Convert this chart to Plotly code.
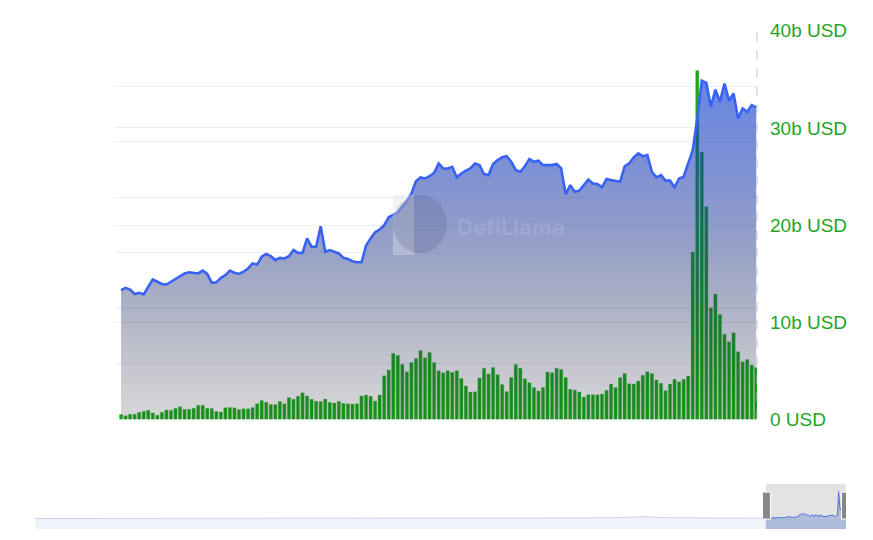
import pandas as pd
import plotly.graph_objects as go

# ---------------- data ----------------
vis_start = "2024-08-01"

tvl = [2.33, 2.37, 2.34, 2.26, 2.28, 2.25, 2.39, 2.52, 2.48, 2.44, 2.43, 2.48, 2.52, 2.57, 2.63, 2.65, 2.64, 2.63, 2.68, 2.62, 2.46, 2.47, 2.55,
       2.60, 2.68, 2.64, 2.62, 2.66, 2.72, 2.81, 2.79, 2.93, 2.98, 2.94, 2.87, 2.91, 2.90, 2.94, 3.05, 3.00, 3.00, 3.26, 3.11, 3.11, 3.48, 3.02,
       3.05, 3.02, 2.99, 2.91, 2.89, 2.85, 2.83, 2.83, 3.13, 3.26, 3.37, 3.42, 3.50, 3.64, 3.68, 3.73, 3.83, 3.93, 4.07, 4.29, 4.36, 4.34, 4.38,
       4.44, 4.61, 4.52, 4.52, 4.55, 4.36, 4.43, 4.48, 4.52, 4.61, 4.58, 4.42, 4.40, 4.60, 4.67, 4.72, 4.74, 4.64, 4.49, 4.46, 4.56, 4.69, 4.64, 4.66,
       4.58, 4.58, 4.58, 4.60, 4.52, 4.05, 4.22, 4.10, 4.12, 4.22, 4.32, 4.25, 4.24, 4.18, 4.33, 4.31, 4.30, 4.28, 4.56, 4.61, 4.72, 4.79, 4.74,
       4.76, 4.46, 4.36, 4.40, 4.30, 4.30, 4.18, 4.34, 4.37, 4.61, 4.85, 5.42, 6.10, 6.06, 5.63, 5.94, 5.72, 6.05, 5.74, 5.87, 5.42, 5.60, 5.54, 5.66, 5.62]

vol = [0.51, 0.38, 0.55, 0.55, 0.75, 0.86, 0.96, 0.68, 0.45, 0.75, 0.99, 0.96, 1.16, 1.30, 1.06, 1.06, 1.16, 1.47, 1.47, 1.16, 1.13, 0.82, 0.78,
       1.20, 1.23, 1.20, 1.03, 1.10, 1.10, 1.23, 1.61, 1.95, 1.78, 1.54, 1.54, 1.85, 1.61, 2.26, 2.09, 2.40, 2.74, 2.43, 2.09, 1.88, 1.85, 2.11,
       1.76, 1.70, 1.87, 1.66, 1.63, 1.59, 1.63, 2.41, 2.52, 2.38, 1.90, 2.52, 4.50, 5.09, 6.80, 6.59, 5.67, 4.91, 5.87, 6.28, 7.11, 6.35, 6.90,
       5.87, 5.02, 4.81, 5.02, 4.85, 5.02, 4.23, 3.44, 2.83, 2.86, 4.26, 5.26, 4.67, 5.36, 4.61, 3.61, 2.89, 4.33, 5.67, 5.26, 4.20, 3.78, 3.30, 2.93,
       3.30, 4.88, 4.81, 5.26, 5.15, 4.33, 3.10, 3.03, 2.83, 2.31, 2.55, 2.55, 2.55, 2.62, 3.00, 3.65, 3.30, 4.33, 4.74, 3.68, 3.65, 3.96, 4.54,
       4.91, 4.74, 4.06, 3.72, 2.96, 3.65, 4.13, 3.89, 4.13, 4.47, 17.24, 35.9, 27.5, 21.9, 11.5, 12.9, 10.8, 8.78, 8.00, 8.92, 6.97, 5.94, 6.18, 5.60, 5.36]

# earlier history (monthly) shown only in the zoom slider
hist_start = "2021-02-01"
hist_vol = [0.2, 0.2, 0.25, 0.3, 0.25, 0.2, 0.2, 0.25, 0.3, 0.3, 0.3,
            0.3, 0.25, 0.25, 0.3, 0.35, 0.4, 0.35, 0.3, 0.35, 0.5, 0.4, 0.3,
            0.3, 0.3, 0.35, 0.3, 0.3, 0.35, 0.4, 0.5, 0.7, 0.9, 1.1, 1.8,
            2.6, 1.4, 1.1, 1.0, 0.9, 0.8, 0.7]

vol_tickvals = [0, 10, 20, 30, 40]
vol_ticktext = ["0 USD", "10b USD", "20b USD", "30b USD", "40b USD"]

# ---------------- derived ----------------
dates = pd.date_range(vis_start, periods=len(vol), freq="D")
hist_dates = pd.date_range(hist_start, periods=len(hist_vol), freq="MS")
hist_x = list(hist_dates) + [dates[0]]
hist_y = list(hist_vol) + [vol[0]]

VOL_MAX = 40.1            # a hair above 40 so the top grid line is kept
TVL_MAX = 7 * VOL_MAX / 40
SL_MIN, SL_MAX = -13.7, 46
GREEN_TXT = "rgb(35,165,35)"
GRID = "rgb(239,239,240)"
W, H = 873, 540
OFF = 8  # page body margin


def px(x):
    return (x - OFF) / W


def py(y):
    return 1 - (y - OFF) / H


fig = go.Figure()

# volume bars (base axis, drawn first)
fig.add_trace(go.Bar(
    x=dates, y=vol, xaxis="x", yaxis="y",
    marker=dict(color="rgb(24,168,24)", line=dict(color="rgba(110,195,110,0.6)", width=0.6)),
    hoverinfo="skip", showlegend=False))

# TVL area (overlay axis, drawn on top with translucent dark gradient)
fig.add_trace(go.Scatter(
    x=dates, y=tvl, mode="lines", xaxis="x", yaxis="y2",
    line=dict(color="rgb(56,98,245)", width=2.6),
    fill="tozeroy",
    fillgradient=dict(
        type="vertical", start=0, stop=TVL_MAX,
        colorscale=[[0.0, "rgba(26,26,37,0.17)"],
                    [0.3, "rgba(18,31,92,0.35)"],
                    [0.45, "rgba(22,44,133,0.45)"],
                    [0.64, "rgba(16,51,175,0.54)"],
                    [0.85, "rgba(13,61,207,0.62)"],
                    [1.0, "rgba(12,62,212,0.64)"]]),
    hoverinfo="skip", showlegend=False))

# slider mini chart
fig.add_trace(go.Scatter(
    x=hist_x, y=hist_y, mode="lines", xaxis="x3", yaxis="y3",
    line=dict(color="rgb(205,213,238)", width=1),
    fill="tozeroy", fillcolor="rgba(235,239,248,0.9)",
    hoverinfo="skip", showlegend=False))
fig.add_trace(go.Scatter(
    x=dates, y=vol, mode="lines", xaxis="x3", yaxis="y3",
    line=dict(color="rgb(75,112,228)", width=1),
    fill="tozeroy", fillcolor="rgba(172,187,218,1)",
    hoverinfo="skip", showlegend=False))

shapes = [
    dict(type="line", xref="x domain", yref="y domain", x0=1, x1=1, y0=0, y1=1,
         line=dict(color="rgb(190,194,208)", width=1, dash="dash")),
    dict(type="rect", xref="x3 domain", yref="y3", x0=0, x1=1, y0=SL_MIN, y1=0,
         fillcolor="rgba(240,243,250,1)", line=dict(width=0), layer="below"),
    dict(type="rect", xref="x3", yref="y3 domain", x0=dates[0], x1=dates[-1], y0=0, y1=1,
         fillcolor="rgb(227,227,227)", line=dict(width=0), layer="below"),
    dict(type="rect", xref="x3", yref="y3", x0=dates[0], x1=dates[-1], y0=SL_MIN, y1=0,
         fillcolor="rgb(172,187,218)", line=dict(width=0), layer="below"),
    dict(type="rect", xref="x3", yref="y3 domain",
         x0=dates[0] - pd.Timedelta(days=6), x1=dates[0] + pd.Timedelta(days=8), y0=0.22, y1=0.82,
         fillcolor="rgb(135,135,135)", line=dict(color="white", width=1)),
    dict(type="rect", xref="x3", yref="y3 domain",
         x0=dates[-1] - pd.Timedelta(days=8), x1=dates[-1] + pd.Timedelta(days=6), y0=0.22, y1=0.82,
         fillcolor="rgb(135,135,135)", line=dict(color="white", width=1)),
    dict(type="rect", xref="paper", yref="paper", x0=px(393), x1=px(414), y0=py(255), y1=py(195),
         fillcolor="rgba(225,225,230,0.4)", line=dict(width=0)),
    dict(type="circle", xref="paper", yref="paper", x0=px(393), x1=px(447), y0=py(253), y1=py(195),
         fillcolor="rgba(85,95,135,0.25)", line=dict(width=0)),
]

top_px = 419.5 - (419.5 - 30.7) * VOL_MAX / 40

fig.update_layout(
    template="none",
    width=W, height=H,
    margin=dict(l=0, r=0, t=0, b=0, pad=0, autoexpand=False),
    paper_bgcolor="white", plot_bgcolor="white",
    bargap=0.27,
    showlegend=False,
    xaxis=dict(domain=[px(115), px(757)], type="date", automargin=False,
               range=[dates[0] - pd.Timedelta(hours=32), dates[0] + pd.Timedelta(hours=24 * 140 + 4)],
               showgrid=False, zeroline=False, showticklabels=False, showline=False, ticks="",
               fixedrange=True),
    yaxis=dict(domain=[py(419.5), py(top_px)], side="right", range=[0, VOL_MAX], automargin=False,
               tickvals=vol_tickvals, ticktext=vol_ticktext,
               showgrid=True, gridcolor=GRID, gridwidth=1, zeroline=False, showline=False,
               ticks="", ticklabelstandoff=12,
               tickfont=dict(family="Liberation Sans", size=19, color=GREEN_TXT), fixedrange=True),
    yaxis2=dict(overlaying="y", side="left", anchor="x", range=[0, TVL_MAX], dtick=1, automargin=False,
                showgrid=True, gridcolor=GRID, gridwidth=1, zeroline=False, ticks="",
                showticklabels=False, showline=False, fixedrange=True),
    xaxis3=dict(domain=[px(35), px(846)], anchor="y3", type="date", automargin=False,
                range=[hist_dates[0], dates[-1]], visible=False, fixedrange=True),
    yaxis3=dict(domain=[py(529), py(484)], anchor="x3", range=[SL_MIN, SL_MAX], automargin=False,
                visible=False, fixedrange=True),
    shapes=shapes,
    annotations=[dict(text="<b>DefiLlama</b>", xref="paper", yref="paper", x=px(455), y=py(227),
                      xanchor="left", yanchor="middle", showarrow=False,
                      font=dict(family="Inter", size=22, color="rgba(205,210,230,0.22)"))],
)

fig.write_html("out.html", config={"displayModeBar": False})
